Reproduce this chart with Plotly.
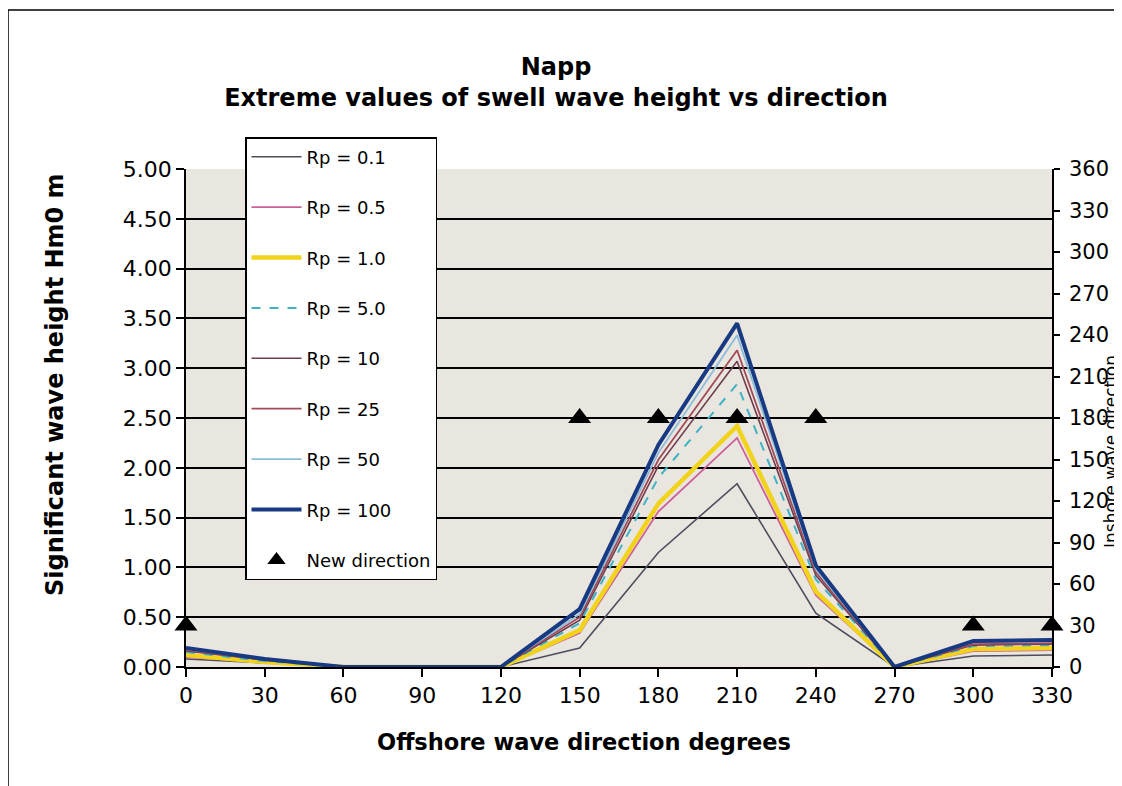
import plotly.graph_objects as go

# ---- data ----
directions = [0, 30, 60, 90, 120, 150, 180, 210, 240, 270, 300, 330]
rp_0_1 = [0.08, 0.04, 0, 0, 0, 0.19, 1.15, 1.84, 0.54, 0, 0.11, 0.12]
rp_0_5 = [0.10, 0.05, 0, 0, 0, 0.34, 1.56, 2.30, 0.72, 0, 0.16, 0.17]
rp_1_0 = [0.12, 0.05, 0, 0, 0, 0.37, 1.64, 2.42, 0.76, 0, 0.18, 0.19]
rp_5_0 = [0.15, 0.06, 0, 0, 0, 0.44, 1.90, 2.84, 0.88, 0, 0.21, 0.22]
rp_10 = [0.16, 0.07, 0, 0, 0, 0.47, 2.02, 3.07, 0.92, 0, 0.22, 0.23]
rp_25 = [0.17, 0.07, 0, 0, 0, 0.50, 2.08, 3.18, 0.95, 0, 0.23, 0.24]
rp_50 = [0.18, 0.08, 0, 0, 0, 0.53, 2.15, 3.33, 0.98, 0, 0.25, 0.26]
rp_100 = [0.19, 0.08, 0, 0, 0, 0.58, 2.23, 3.45, 1.02, 0, 0.26, 0.27]
new_direction = [30, None, None, None, None, 180, 180, 180, 180, None, 30, 30]

series_names = ["Rp = 0.1", "Rp = 0.5", "Rp = 1.0", "Rp = 5.0",
                "Rp = 10", "Rp = 25", "Rp = 50", "Rp = 100"]
series_values = [rp_0_1, rp_0_5, rp_1_0, rp_5_0, rp_10, rp_25, rp_50, rp_100]
series_colors = ["#4d4d5e", "#cc5f9a", "#f2d31b", "#3fb3c4",
                 "#6e3d4e", "#a34a58", "#8cbcd8", "#173a82"]
series_widths = [1.6, 1.8, 4.5, 2, 1.6, 1.8, 1.8, 4]
series_dash = ["solid", "solid", "solid", "dash", "solid", "solid", "solid", "solid"]

y_ticks = [i * 0.5 for i in range(11)]
y2_ticks = list(range(0, 361, 30))

# ---- layout geometry (target screen pixels; page has an 8px body margin) ----
OFF = 8
W, H = 1122 - OFF, 786 - OFF
SL, SR, ST, SB = 186, 1052, 169, 667      # plot area on screen
L, R, T, B = SL - OFF, SR - OFF, ST - OFF, SB - OFF


def px(x):
    return (x - SL) / (SR - SL)


def py(y):
    return (SB - y) / (SB - ST)


FONT = "DejaVu Sans, Arial, sans-serif"

fig = go.Figure()
for name, vals, col, w, d in zip(series_names, series_values, series_colors,
                                 series_widths, series_dash):
    fig.add_trace(go.Scatter(
        x=directions, y=vals, name=name, mode="lines", legendgroup=name,
        line=dict(color=col, width=w, dash=d)))

fig.add_trace(go.Scatter(
    x=directions, y=new_direction, name="New direction", mode="markers",
    yaxis="y2", legendgroup="nd", cliponaxis=False,
    marker=dict(symbol="triangle-up", size=20, color="black")))

fig.update_layout(
    width=W, height=H,
    margin=dict(l=L, r=W - R, t=T, b=H - B, autoexpand=False),
    paper_bgcolor="white",
    plot_bgcolor="#e9e5df",
    font=dict(family=FONT, color="black", size=22),
    title=dict(text="<b>Napp<br>Extreme values of swell wave height vs direction</b>",
               x=(556 - OFF) / W, xanchor="center", y=1 - (74.5 - OFF) / H,
               yanchor="middle", yref="container", font=dict(size=24, family=FONT)),
    xaxis=dict(range=[0, 330], tickvals=directions, ticks="outside", ticklen=8,
               tickcolor="black", tickwidth=1.5, showline=True, linecolor="black",
               linewidth=1.5, showgrid=False, zeroline=False,
               tickfont=dict(size=22)),
    yaxis=dict(range=[0, 5], tickvals=y_ticks, tickformat=".2f", ticks="outside",
               ticklen=8, tickcolor="black", tickwidth=1.5, showline=True,
               linecolor="black", linewidth=1.5, showgrid=True, gridcolor="black",
               gridwidth=2, zeroline=False, tickfont=dict(size=22)),
    yaxis2=dict(range=[0, 360], tickvals=y2_ticks, overlaying="y", side="right",
                ticks="outside", ticklen=6, tickcolor="black", tickwidth=1.5,
                showline=True, linecolor="black", linewidth=1.5, showgrid=False,
                zeroline=False, tickfont=dict(size=21), ticklabelstandoff=5),
    legend=dict(x=px(245), y=py(137), xanchor="left", yanchor="top",
                bgcolor="white", bordercolor="black", borderwidth=1.5,
                font=dict(size=18, family=FONT), tracegroupgap=24,
                traceorder="grouped", maxheight=700, itemwidth=50),
    showlegend=True,
)

fig.add_annotation(text="<b>Significant wave height Hm0 m</b>", xref="paper", yref="paper",
                   x=px(55), y=py(385), xanchor="center", yanchor="middle",
                   textangle=-90, showarrow=False, font=dict(size=24, family=FONT))
fig.add_annotation(text="<b>Offshore wave direction degrees</b>", xref="paper", yref="paper",
                   x=px(584), y=py(742), xanchor="center", yanchor="middle",
                   showarrow=False, font=dict(size=22.5, family=FONT))
fig.add_annotation(text="Inshore wave direction", xref="paper", yref="paper",
                   x=px(1111), y=py(452), xanchor="center", yanchor="middle",
                   textangle=-90, showarrow=False, font=dict(size=17, family=FONT))

fig.add_shape(type="rect", xref="paper", yref="paper",
              x0=px(8), y0=py(800), x1=px(1140), y1=py(10),
              line=dict(color="black", width=1.5), layer="below")

fig.write_html("out.html")
